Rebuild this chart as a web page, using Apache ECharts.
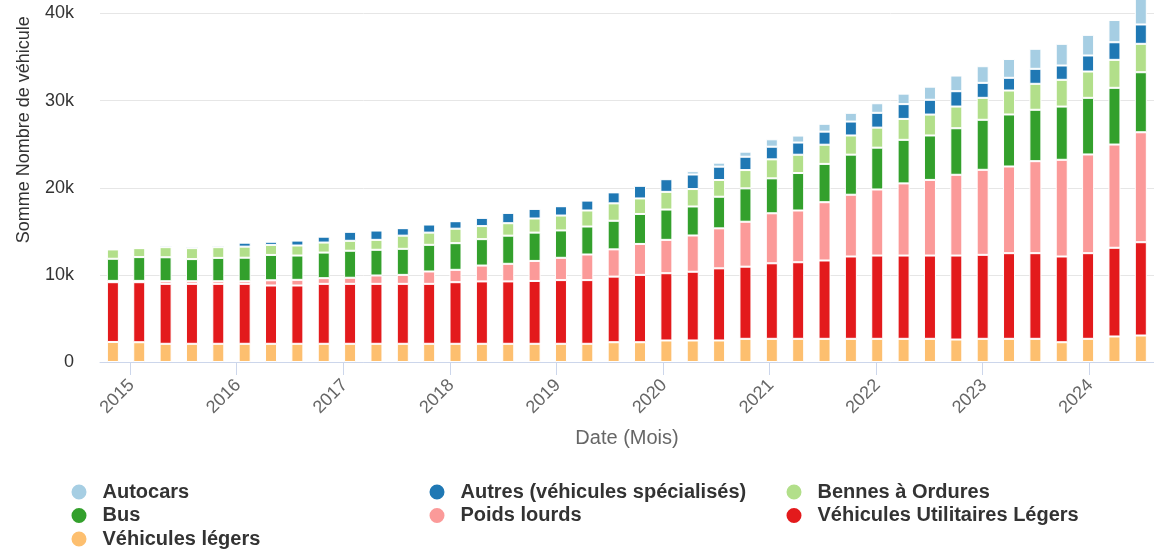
<!DOCTYPE html>
<html>
<head>
<meta charset="utf-8">
<script src="https://cdn.jsdelivr.net/npm/echarts@6/dist/echarts.min.js"></script>
<style>
html,body{margin:0;padding:0;background:#fff;}
#c{width:1154px;height:550px;}
</style>
</head>
<body>
<div id="c"></div>
<script>
const dates = ['2014-11',
  '2015-02','2015-05','2015-08','2015-11',
  '2016-02','2016-05','2016-08','2016-11',
  '2017-02','2017-05','2017-08','2017-11',
  '2018-02','2018-05','2018-08','2018-11',
  '2019-02','2019-05','2019-08','2019-11',
  '2020-02','2020-05','2020-08','2020-11',
  '2021-02','2021-05','2021-08','2021-11',
  '2022-02','2022-05','2022-08','2022-11',
  '2023-02','2023-05','2023-08','2023-11',
  '2024-02','2024-05','2024-08'];

const vehiculesLegers = [2300,2270,2090,2090,2090,2090,2090,2090,2090,2090,2090,2090,2090,2090,2090,2090,2090,2090,2090,2270,2270,2470,2470,2470,2660,2660,2660,2660,2660,2660,2660,2660,2580,2660,2660,2660,2270,2660,2930,3040];
const vul = [6860,6890,6880,6880,6880,6880,6690,6690,6880,6880,6880,6880,6880,7070,7160,7160,7210,7310,7310,7530,7730,7720,7890,8280,8280,8670,8790,8990,9450,9560,9560,9560,9640,9640,9830,9830,9840,9830,10180,10710];
const poidsLourds = [150,150,300,300,300,300,600,650,650,700,960,1030,1420,1420,1820,2020,2300,2560,2940,3130,3550,3830,4160,4590,5160,5740,5940,6690,7090,7580,8280,8680,9270,9760,9950,10560,11100,11330,11850,12620];
const bus = [2540,2730,2750,2540,2680,2700,2910,2790,2940,3100,2950,2990,3060,3060,3030,3230,3250,3140,3210,3280,3440,3480,3330,3630,3830,4010,4300,4400,4600,4800,5000,5100,5340,5740,5970,5900,6110,6500,6510,6890];
const bennes = [1070,1030,1160,1260,1230,1270,1150,1150,1150,1140,1140,1510,1400,1660,1500,1430,1620,1710,1840,2000,1780,2030,2000,1920,2100,2180,2100,2200,2200,2300,2400,2400,2490,2520,2750,2980,3070,3020,3210,3260];
const autres = [0,0,200,200,200,460,370,570,680,1040,1070,860,930,860,950,1190,1110,1070,1140,1260,1450,1450,1670,1530,1530,1450,1400,1500,1600,1700,1700,1700,1760,1720,1460,1720,1640,1840,2020,2220];
const autocars = [0,0,0,0,0,0,0,0,0,0,0,0,0,0,0,0,0,0,0,0,100,100,380,460,580,850,800,900,1000,1100,1200,1500,1800,1910,2160,2300,2490,2370,2550,3300];

const yTicks = [0, 10000, 20000, 30000, 40000];
const timeRange = ['2014-09-20', '2024-08-10T18:00:00'];

const seriesDefs = [
  {name: 'Véhicules légers', data: vehiculesLegers, color: '#fdbf6f'},
  {name: 'Véhicules Utilitaires Légers', data: vul, color: '#e31a1c'},
  {name: 'Poids lourds', data: poidsLourds, color: '#fb9a99'},
  {name: 'Bus', data: bus, color: '#33a02c'},
  {name: 'Bennes à Ordures', data: bennes, color: '#b2df8a'},
  {name: 'Autres (véhicules spécialisés)', data: autres, color: '#1f78b4'},
  {name: 'Autocars', data: autocars, color: '#a6cee3'}
];

const FONT = '"Liberation Sans", Arial, sans-serif';
const legendBase = {
  orient: 'vertical', top: 482, height: 70, padding: 0, icon: 'circle', itemWidth: 17, itemHeight: 17, itemGap: 3.5,
  textStyle: {fontFamily: FONT, fontSize: 20, fontWeight: 'bold', color: '#333', lineHeight: 20, padding: [0,0,0,10]},
  selectedMode: false
};

const yBase = {
  type: 'value',
  min: yTicks[0],
  max: yTicks[yTicks.length - 1],
  interval: yTicks[1] - yTicks[0]
};

const chart = echarts.init(document.getElementById('c'), null, {renderer: 'canvas'});
chart.setOption({
  animation: false,
  textStyle: {fontFamily: FONT},
  grid: [
    {left: 100, right: 0, top: 13.5, bottom: 188, containLabel: false},
    {left: 99.7, right: -9.3, top: 13.5, bottom: 188, containLabel: false}
  ],
  legend: [
    Object.assign({}, legendBase, {left: 69.5, data: ['Autocars', 'Bus', 'Véhicules légers']}),
    Object.assign({}, legendBase, {left: 427.5, data: ['Autres (véhicules spécialisés)', 'Poids lourds']}),
    Object.assign({}, legendBase, {left: 784.5, data: ['Bennes à Ordures', 'Véhicules Utilitaires Légers']})
  ],
  xAxis: [{
    type: 'time',
    gridIndex: 0,
    min: timeRange[0],
    max: timeRange[1],
    splitNumber: 10,
    minInterval: 365 * 24 * 3600 * 1000,
    name: 'Date (Mois)',
    nameLocation: 'middle',
    nameGap: 66,
    nameTextStyle: {fontFamily: FONT, fontSize: 20, color: '#666'},
    axisLine: {show: true, lineStyle: {color: '#ccd6eb', width: 1}},
    axisTick: {show: true, length: 13, lineStyle: {color: '#ccd6eb'}},
    axisLabel: {
      rotate: 45, margin: 19, fontFamily: FONT, fontSize: 18, color: '#666', padding: [4, 0, 0, 0],
      hideOverlap: false, showMinLabel: false, showMaxLabel: false,
      formatter: function (v) { return String(new Date(v).getFullYear()); }
    },
    splitLine: {show: false}
  }, {
    type: 'category',
    gridIndex: 1,
    data: dates,
    boundaryGap: true,
    show: false
  }],
  yAxis: [Object.assign({}, yBase, {
    gridIndex: 0,
    name: 'Somme Nombre de véhicule',
    nameLocation: 'middle',
    nameGap: 67,
    nameTextStyle: {fontFamily: FONT, fontSize: 18, color: '#333', padding: [0, 0, 0, 116]},
    axisLine: {show: false},
    axisTick: {show: false},
    axisLabel: {
      margin: 26, fontFamily: FONT, fontSize: 18, color: '#333', padding: [6, 0, 0, 0],
      formatter: function (v) { return v === 0 ? '0' : (v / 1000) + 'k'; }
    },
    splitLine: {show: true, lineStyle: {color: '#e6e6e6', width: 1}}
  }), Object.assign({}, yBase, {
    gridIndex: 1,
    show: false,
    splitLine: {show: false}
  })],
  series: seriesDefs.map(function (s) {
    return {
      name: s.name,
      type: 'bar',
      xAxisIndex: 1,
      yAxisIndex: 1,
      stack: 'total',
      barWidth: 12,
      clip: false,
      itemStyle: {color: s.color, borderColor: '#ffffff', borderWidth: 1},
      data: s.data
    };
  })
});
</script>
</body>
</html>
